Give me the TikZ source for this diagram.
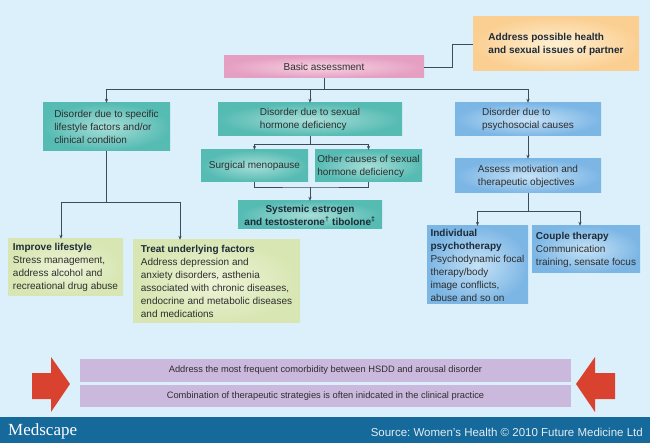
\documentclass[tikz,border=0pt]{standalone}
\usepackage{fontspec}
\setmainfont{Liberation Sans}
\newfontfamily\medfont{Liberation Serif}
\usetikzlibrary{arrows.meta,calc}
\definecolor{bg}{HTML}{DCF0FB}
\definecolor{footc}{HTML}{15699B}
\definecolor{txt}{HTML}{2E2E2E}
\definecolor{hd}{HTML}{1E2A38}
\definecolor{ln}{HTML}{3D4B5C}
\definecolor{tealin}{HTML}{A8DED8}
\definecolor{tealout}{HTML}{55BBB3}
\definecolor{bluein}{HTML}{C6E2F6}
\definecolor{blueout}{HTML}{7CB6E5}
\definecolor{greenin}{HTML}{EEF4D8}
\definecolor{greenout}{HTML}{D7E6B2}
\definecolor{pinkin}{HTML}{F6D3E3}
\definecolor{pinkout}{HTML}{E59FC2}
\definecolor{orin}{HTML}{FEF0D2}
\definecolor{orout}{HTML}{FBCF92}
\definecolor{purp}{HTML}{CBB9DD}
\definecolor{redar}{HTML}{D8422F}
\newcommand\hdg[1]{{\color{hd}\bfseries #1}}
\frenchspacing
\begin{document}
\begin{tikzpicture}[x=1pt,y=-1pt,
  box/.style={rectangle, inner sep=0pt, align=left, text=txt,
    font=\fontsize{10}{13}\selectfont},
  tealbox/.style={box, shade, shading=radial, inner color=tealin, outer color=tealout},
  bluebox/.style={box, shade, shading=radial, inner color=bluein, outer color=blueout},
  greenbox/.style={box, shade, shading=radial, inner color=greenin, outer color=greenout},
  pinkbox/.style={box, shade, shading=radial, inner color=pinkin, outer color=pinkout},
  orbox/.style={box, shade, shading=radial, inner color=orin, outer color=orout},
  barbox/.style={rectangle, inner sep=0pt, fill=purp, text=txt,
    font=\fontsize{9.3}{11}\selectfont, minimum width=491pt},
  conn/.style={draw=ln, line width=0.9pt},
  arr/.style={conn, -{Stealth[length=4pt,width=3.2pt]}},
  redarrow/.style={fill=redar, draw=none},
]
\useasboundingbox (0,0) rectangle (650,443);
\fill[bg] (0,0) rectangle (650,417);
\fill[footc] (0,417) rectangle (650,443);

% boxes
\node[orbox, text=hd, font=\fontsize{10}{13}\selectfont\bfseries, minimum width=166pt, minimum height=54pt] (partner) at (556,44)
  {Address possible health\\and sexual issues of partner};
\node[pinkbox, minimum width=200pt, minimum height=22pt] (basic) at (324,67) {Basic assessment};

\node[tealbox, minimum width=127pt, minimum height=48pt] (d1) at (106.5,127)
  {Disorder due to specific\\lifestyle factors and/or\\clinical condition};
\node[tealbox, minimum width=184pt, minimum height=33pt] (d2) at (310,119.5)
  {Disorder due to sexual\\hormone deficiency};
\node[bluebox, minimum width=146pt, minimum height=33pt] (d3) at (528,119.5)
  {Disorder due to\\psychosocial causes};

\node[tealbox, minimum width=107pt, minimum height=32pt] (surg) at (254.5,166)
  {Surgical menopause};
\node[tealbox, minimum width=107pt, minimum height=32pt] (other) at (368.5,166)
  {Other causes of sexual\\hormone deficiency};
\node[tealbox, align=center, text=hd, font=\fontsize{10}{13}\selectfont\bfseries, minimum width=144pt, minimum height=28pt] (sys) at (310,215)
  {Systemic estrogen\\and testosterone\textsuperscript{†} tibolone\textsuperscript{‡}};

\node[bluebox, minimum width=146pt, minimum height=34pt] (assess) at (528,176)
  {Assess motivation and\\therapeutic objectives};

\node[greenbox, minimum width=115pt, minimum height=57pt] (impr) at (65.5,267.5)
  {\hdg{Improve lifestyle}\\Stress management,\\address alcohol and\\recreational drug abuse};
\node[greenbox, minimum width=167pt, minimum height=83pt] (treat) at (216.5,281.5)
  {\hdg{Treat underlying factors}\\Address depression and\\anxiety disorders, asthenia\\associated with chronic diseases,\\endocrine and metabolic diseases\\and medications};

\node[bluebox, minimum width=101pt, minimum height=78pt] (indiv) at (477.5,265)
  {\hdg{Individual}\\\hdg{psychotherapy}\\Psychodynamic focal\\therapy/body\\image conflicts,\\abuse and so on};
\node[bluebox, minimum width=108pt, minimum height=47pt] (couple) at (586,249.5)
  {\hdg{Couple therapy}\\Communication\\training, sensate focus};

\node[barbox, minimum height=23pt] (bar1) at (325.5,370.5)
  {Address the most frequent comorbidity between HSDD and arousal disorder};
\node[barbox, minimum height=22pt] (bar2) at (325.5,396)
  {Combination of therapeutic strategies is often inidcated in the clinical practice};

% red arrows
\fill[redarrow] (32,373) -- (51,373) -- (51,357) -- (70,384) -- (51,412) -- (51,399) -- (32,399) -- cycle;
\fill[redarrow] (615,373) -- (595,373) -- (595,357) -- (576,384) -- (595,412) -- (595,399) -- (615,399) -- cycle;

% connectors
\draw[conn] (basic.east) -- ++(28,0) |- (partner.west);
\draw[conn] (basic.south) -- ++(0,11) coordinate (bj);
\draw[arr] (bj) -| (d1.north);
\draw[arr] (bj) -| (d3.north);
\draw[arr] (d2.north |- bj) -- (d2.north);

\draw[conn] (d2.south) -- ++(0,8) coordinate (d2j);
\draw[arr] (d2j) -| (surg.north);
\draw[arr] (d2j) -| (other.north);
\coordinate (j2) at (310,187);
\draw[conn] (surg.south) |- (j2) -| (other.south);
\draw[arr] (j2) -- (sys.north);

\draw[conn] (d1.south) -- ++(0,51) coordinate (j3);
\draw[arr] (j3) -| ([xshift=-4.5pt]impr.north);
\draw[arr] (j3) -| ([xshift=-36.5pt]treat.north);

\draw[arr] (d3.south) -- (assess.north);
\draw[conn] (assess.south) -- ++(0,18) coordinate (j4);
\draw[arr] (j4) -| (indiv.north);
\draw[arr] (j4) -| ([xshift=-6pt]couple.north);

% footer
\node[anchor=base west, inner sep=0pt, text=white, font=\medfont\fontsize{17}{17}\selectfont] (med) at (8,435) {Medscape};
\node[anchor=base east, inner sep=0pt, text=white!88!footc, font=\fontsize{11.5}{12}\selectfont] (src) at (643,436) {Source: Women's Health © 2010 Future Medicine Ltd};
\end{tikzpicture}
\end{document}
